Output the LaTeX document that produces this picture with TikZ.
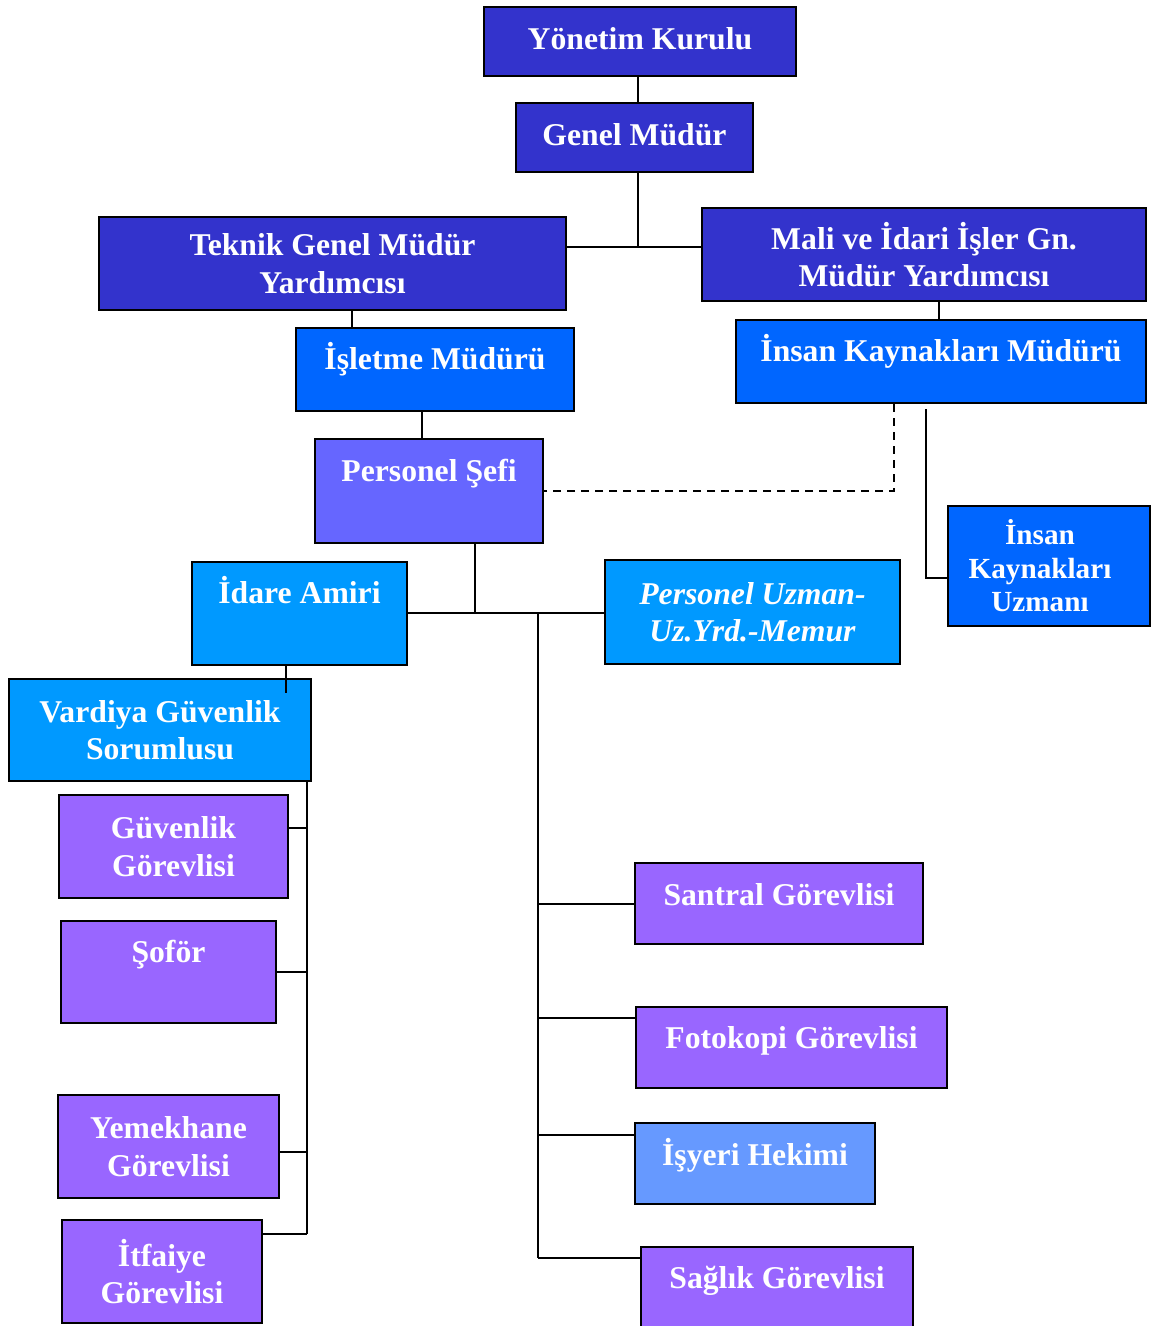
\documentclass[tikz,border=0pt]{standalone}
\usepackage{fontspec}
\setmainfont{Liberation Serif}
\usepackage{tikz}

\definecolor{dkblue}{HTML}{3333CC}
\definecolor{midblue}{HTML}{0066FF}
\definecolor{psblue}{HTML}{6666FF}
\definecolor{skyblue}{HTML}{0099FF}
\definecolor{lilac}{HTML}{9966FF}
\definecolor{paleblue}{HTML}{6699FF}

\newcommand{\boxfont}{\fontsize{15.85}{18.75}\selectfont\bfseries}
\newcommand{\smallboxfont}{\fontsize{14.6}{16.75}\selectfont\bfseries}
\newcommand{\padr}{\rule{9pt}{0pt}}

\begin{document}
\begin{tikzpicture}[x=0.5pt, y=-0.5pt,
  box/.style={draw=black, line width=1pt, text=white, align=center, inner sep=1pt, font=\boxfont},
  dk/.style={box, fill=dkblue},
  mid/.style={box, fill=midblue},
  ps/.style={box, fill=psblue},
  sky/.style={box, fill=skyblue},
  lil/.style={box, fill=lilac},
  pale/.style={box, fill=paleblue},
  topline/.style={text height=11pt, text depth=#1},
  conn/.style={line width=1pt}]
	\useasboundingbox (0,0) rectangle (1152,1326);

	% top management
	\node[dk, topline=2.5pt, minimum width=156pt, minimum height=34.5pt]	(YK)	at (640,41.5)	{Yönetim Kurulu};
	\node[dk, topline=3pt, minimum width=118.5pt, minimum height=34.5pt]	(GM)	at (634.5,137.5)	{Genel Müdür};
	\node[dk, minimum width=233.5pt, minimum height=46.5pt]	(TGM)	at (332.5,263.5)	{Teknik Genel Müdür\\Yardımcısı};
	\node[dk, minimum width=222pt, minimum height=46.5pt]	(MIG)	at (924,254.5)	{Mali ve İdari İşler Gn.\\Müdür Yardımcısı};

	% managers
	\node[mid, topline=11.5pt, minimum width=139pt, minimum height=41.5pt]	(IM)	at (435,369.5)	{İşletme Müdürü};
	\node[mid, topline=11.5pt, minimum width=205pt, minimum height=41.5pt]	(IKM)	at (941,361.5)	{İnsan Kaynakları Müdürü};
	\node[mid, font=\smallboxfont, minimum width=101pt, minimum height=60pt]	(IKU)	at (1049,566)	{İnsan\padr\\Kaynakları\padr\\Uzmanı\padr};
	\node[ps, topline=21pt, minimum width=114pt, minimum height=52pt]	(PS)	at (429,491)	{Personel Şefi};
	\node[sky, topline=21.5pt, minimum width=107.5pt, minimum height=51.5pt]	(IA)	at (299.5,613.5)	{İdare Amiri};
	\node[sky, font=\boxfont\itshape, minimum width=147.5pt, minimum height=52pt]	(PU)	at (752.5,612)	{Personel Uzman-\\Uz.Yrd.-Memur};
	\node[sky, minimum width=151pt, minimum height=51pt]	(VGS)	at (160,730)	{Vardiya Güvenlik\\Sorumlusu};

	% staff, left column
	\node[lil, minimum width=114.5pt, minimum height=51.5pt]	(GG)	at (173.5,846.5)	{Güvenlik\\Görevlisi};
	\node[lil, topline=21pt, minimum width=107.5pt, minimum height=51pt]	(SF)	at (168.5,972)	{Şoför};
	\node[lil, minimum width=110.5pt, minimum height=51.5pt]	(YG)	at (168.5,1146.5)	{Yemekhane\\Görevlisi};
	\node[lil, minimum width=100pt, minimum height=51.5pt]	(ITG)	at (162,1271.5)	{İtfaiye\\Görevlisi};

	% staff, right column
	\node[lil, topline=9.5pt, minimum width=144pt, minimum height=40.5pt]	(SG)	at (779,903.5)	{Santral Görevlisi};
	\node[lil, topline=10.5pt, minimum width=155.5pt, minimum height=40.5pt]	(FG)	at (791.5,1047.5)	{Fotokopi Görevlisi};
	\node[pale, topline=9.5pt, minimum width=120pt, minimum height=40.5pt]	(IH)	at (755,1163.5)	{İşyeri Hekimi};
	\node[lil, topline=10.5pt, minimum width=136pt, minimum height=40.5pt]	(SLG)	at (777,1287.5)	{Sağlık Görevlisi};

	% junction points
	\coordinate (J1) at (638,247);
	\coordinate (A1) at (352,0);
	\coordinate (A2) at (939,0);
	\coordinate (A3) at (422,0);
	\coordinate (D1) at (894,491);
	\coordinate (K1) at (926,409);
	\coordinate (K2) at (926,578);
	\coordinate (P1) at (475,613);
	\coordinate (V1) at (286,693);
	\coordinate (T1) at (538,612);
	\coordinate (T2) at (538,1258);
	\coordinate (L1) at (307,0);
	\coordinate (L2) at (307,1234);

	% connectors
	\draw[conn] (YK.south -| J1) -- (GM.north -| J1);
	\draw[conn] (GM.south -| J1) -- (J1);
	\draw[conn] (TGM.east |- J1) -- (MIG.west |- J1);
	\draw[conn] (TGM.south -| A1) -- (IM.north -| A1);
	\draw[conn] (MIG.south -| A2) -- (IKM.north -| A2);
	\draw[conn] (IM.south -| A3) -- (PS.north -| A3);
	\draw[conn, dash pattern=on 4pt off 3pt] (IKM.south -| D1) -- (D1) -- (PS.east |- D1);
	\draw[conn] (K1) -- (K2) -- (IKU.west |- K2);
	\draw[conn] (PS.south -| P1) -- (P1);
	\draw[conn] (IA.east |- P1) -- (PU.west |- P1);
	\draw[conn] (IA.south -| V1) -- (V1);
	\draw[conn] (T1) -- (T2);
	\foreach \n/\y in {SG/904, FG/1018, IH/1135, SLG/1258}{
		\coordinate (R\n) at (538,\y);
		\draw[conn] (R\n) -- (\n.west |- R\n);
	}
	\draw[conn] (VGS.south -| L1) -- (L2);
	\foreach \n/\y in {GG/828, SF/972, YG/1152, ITG/1234}{
		\coordinate (Q\n) at (307,\y);
		\draw[conn] (Q\n) -- (\n.east |- Q\n);
	}
\end{tikzpicture}
\end{document}
